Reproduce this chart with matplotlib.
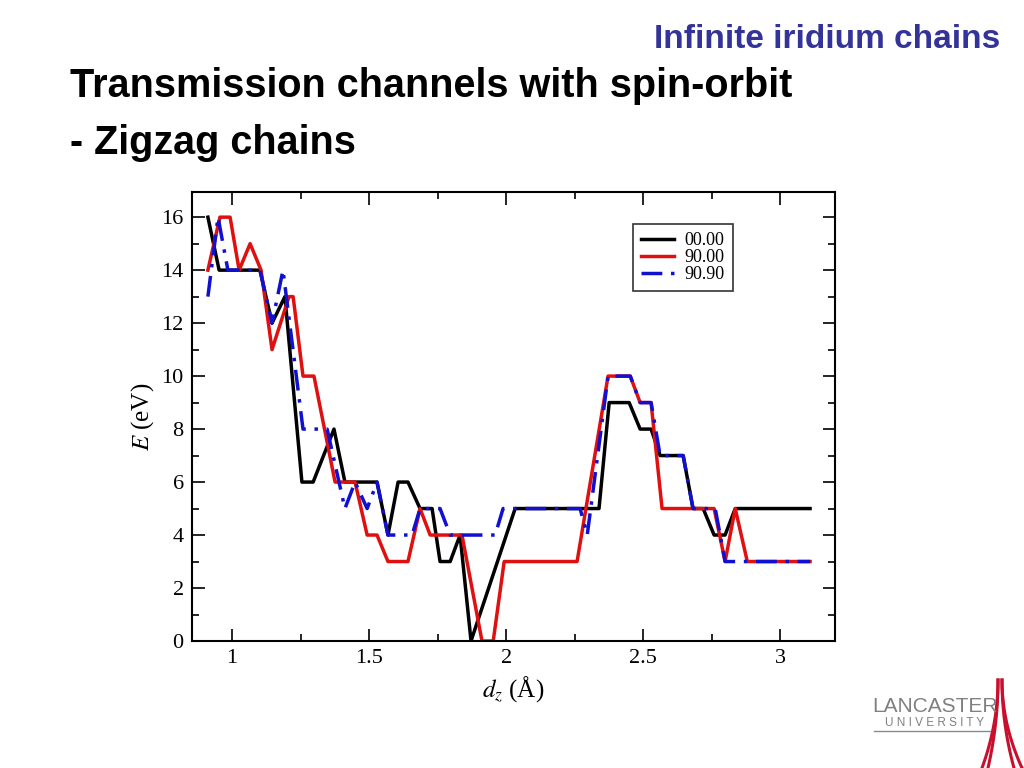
import matplotlib
matplotlib.use("Agg")
import matplotlib.pyplot as plt
from matplotlib.ticker import MultipleLocator
import numpy as np

plt.rcParams["mathtext.fontset"] = "stix"

# Donnees : d_z (A) et E (eV)
dz_0000 = [0.912, 0.953, 1.102, 1.146, 1.193, 1.255, 1.296, 1.372, 1.412, 1.529, 1.569,
           1.606, 1.642, 1.686, 1.730, 1.759, 1.796, 1.832, 1.872, 2.033, 2.339, 2.376,
           2.449, 2.489, 2.529, 2.562, 2.646, 2.682, 2.719, 2.759, 2.799, 2.836, 3.109]
E_0000 = [16, 14, 14, 12, 13, 6, 6, 8, 6, 6, 4,
          6, 6, 5, 5, 3, 3, 4, 0, 5, 5, 9,
          9, 8, 8, 7, 7, 5, 5, 4, 4, 5, 5]

dz_9000 = [0.912, 0.956, 0.993, 1.026, 1.066, 1.106, 1.146, 1.208, 1.223, 1.259, 1.299,
           1.376, 1.449, 1.493, 1.529, 1.569, 1.642, 1.686, 1.723, 1.839, 1.912, 1.953,
           1.993, 2.259, 2.372, 2.453, 2.489, 2.529, 2.569, 2.759, 2.799, 2.836, 2.880, 3.109]
E_9000 = [14, 16, 16, 14, 15, 14, 11, 13, 13, 10, 10,
          6, 6, 4, 4, 3, 3, 5, 4, 4, 0, 0,
          3, 3, 10, 10, 9, 9, 5, 5, 3, 5, 3, 3]

dz_9090 = [0.912, 0.949, 0.985, 1.102, 1.146, 1.186, 1.259, 1.347, 1.412, 1.449, 1.493,
           1.529, 1.569, 1.657, 1.686, 1.759, 1.796, 1.960, 1.989, 2.270, 2.296, 2.372,
           2.453, 2.489, 2.529, 2.562, 2.646, 2.682, 2.763, 2.799, 3.109]
E_9090 = [13, 16, 14, 14, 12, 14, 8, 8, 5, 6, 5,
          6, 4, 4, 5, 5, 4, 4, 5, 5, 4, 10,
          10, 9, 9, 7, 7, 5, 5, 3, 3]

labels = ["00.00", "90.00", "90.90"]

serif = ["Liberation Serif", "DejaVu Serif"]
sans = ["Liberation Sans", "DejaVu Sans"]

fig = plt.figure(figsize=(10.24, 7.68), dpi=100)
fig.patch.set_facecolor("white")

# titres de la diapo
fig.text(1000 / 1024, 1 - 40 / 768, "Infinite iridium chains", ha="right", va="center",
         fontsize=24, fontweight="bold", color="#333399", family=sans)
fig.text(70 / 1024, 1 - 86 / 768, "Transmission channels with spin-orbit", ha="left", va="center",
         fontsize=28.5, fontweight="bold", color="black", family=sans)
fig.text(70 / 1024, 1 - 143 / 768, "- Zigzag chains", ha="left", va="center",
         fontsize=28.5, fontweight="bold", color="black", family=sans)

ax = fig.add_axes([192 / 1024, 1 - 641 / 768, 643 / 1024, 449 / 768])
ax.plot(dz_0000, E_0000, color="black", lw=2.5, label=labels[0])
ax.plot(dz_9000, E_9000, color="#e01010", lw=2.5, label=labels[1])
ax.plot(dz_9090, E_9090, color="#1010d0", lw=2.5, ls=(0, (6, 2.5, 1, 2.5)), label=labels[2])

ax.set_xlim(0.854, 3.2)
ax.set_ylim(0, 16.95)
ax.xaxis.set_major_locator(MultipleLocator(0.5))
ax.xaxis.set_minor_locator(MultipleLocator(0.25))
ax.yaxis.set_major_locator(MultipleLocator(2))
ax.yaxis.set_minor_locator(MultipleLocator(1))
ax.set_xticks([1, 1.5, 2, 2.5, 3])
ax.set_xticklabels(["1", "1.5", "2", "2.5", "3"])
ax.tick_params(which="both", direction="in", top=True, right=True, width=1.2)
ax.tick_params(which="major", length=9, labelsize=16, pad=6)
ax.tick_params(which="minor", length=5)
for lab in ax.get_xticklabels() + ax.get_yticklabels():
    lab.set_family(serif)
for s in ax.spines.values():
    s.set_linewidth(1.5)

ax.set_xlabel(r"$d_{z}$ (Å)", fontsize=18, family=serif, labelpad=4)
ax.set_ylabel(r"$E$ (eV)", fontsize=18, family=serif, labelpad=4)

leg = ax.legend(loc="upper right", bbox_to_anchor=(0.841, 0.929), borderaxespad=0,
                frameon=True, fancybox=False, edgecolor="black",
                prop={"family": serif, "size": 13}, handlelength=1.8, labelspacing=0.0,
                borderpad=0.45, handletextpad=0.6)
leg.get_frame().set_linewidth(1.2)

# logo Lancaster (approximatif)
fig.text(935 / 1024, 1 - 706 / 768, "LANCASTER", ha="center", va="center",
         fontsize=15, color="#808080", family=sans)
fig.text(935 / 1024, 1 - 723 / 768, "U N I V E R S I T Y", ha="center", va="center",
         fontsize=8.5, color="#808080", family=sans)
fig.add_artist(plt.Line2D([874 / 1024, 995 / 1024], [1 - 731 / 768, 1 - 731 / 768],
                          color="#8a8a8a", lw=1, transform=fig.transFigure))
t = np.linspace(0, 1, 40)
for side, spread in [(-1, 10), (-1, 16), (1, 12), (1, 20)]:
    xs = (1000 + side * 2 + side * spread * t ** 2) / 1024
    ys = 1 - (680 + 88 * t) / 768
    fig.add_artist(plt.Line2D(xs, ys, color="#c8102e", lw=2.2, transform=fig.transFigure))

fig.savefig("out.png", dpi=100)
